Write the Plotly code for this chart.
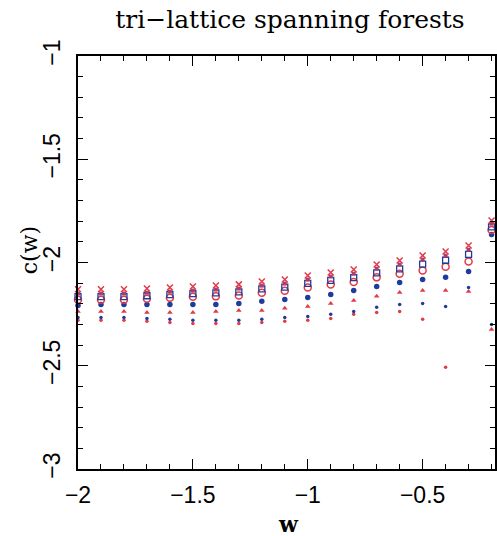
import plotly.graph_objects as go

w = [-2.0, -1.9, -1.8, -1.7, -1.6, -1.5, -1.4, -1.3, -1.2, -1.1,
     -1.0, -0.9, -0.8, -0.7, -0.6, -0.5, -0.4, -0.3, -0.2]

s_cross = [-2.130, -2.130, -2.130, -2.126, -2.121, -2.116, -2.111, -2.106, -2.092, -2.082,
           -2.063, -2.048, -2.034, -2.010, -1.990, -1.966, -1.947, -1.918, -1.797]
s_psq = [-2.150, -2.150, -2.150, -2.146, -2.141, -2.136, -2.131, -2.126, -2.112, -2.102,
         -2.083, -2.068, -2.054, -2.030, -2.010, -1.986, -1.967, -1.938, -1.812]
s_bsq = [-2.165, -2.165, -2.165, -2.161, -2.156, -2.151, -2.147, -2.142, -2.128, -2.119,
         -2.101, -2.087, -2.073, -2.050, -2.031, -2.008, -1.989, -1.961, -1.827]
s_circ = [-2.180, -2.180, -2.180, -2.176, -2.171, -2.166, -2.164, -2.160, -2.146, -2.137,
          -2.121, -2.107, -2.094, -2.072, -2.055, -2.039, -2.020, -1.995, -1.843]
s_bdot = [-2.208, -2.203, -2.203, -2.203, -2.203, -2.203, -2.203, -2.198, -2.188, -2.179,
          -2.169, -2.155, -2.135, -2.116, -2.097, -2.082, -2.072, -2.043, -1.865]
s_tri = [-2.237, -2.237, -2.237, -2.242, -2.242, -2.242, -2.237, -2.232, -2.232, -2.222,
         -2.213, -2.198, -2.184, -2.164, -2.145, -2.135, -2.135, -2.140, -2.324]
s_bsmall = [-2.266, -2.266, -2.266, -2.271, -2.275, -2.280, -2.280, -2.280, -2.275, -2.266,
            -2.261, -2.251, -2.237, -2.217, -2.203, -2.198, -2.213, -2.121, -2.300]
s_rsmall = [-2.280, -2.280, -2.280, -2.285, -2.290, -2.295, -2.295, -2.295, -2.290, -2.285,
            -2.280, -2.271, -2.251, -2.242, -2.237, -2.275, -2.507, None, None]

x_ticks = [-2, -1.5, -1, -0.5]
x_ticklabels = ["\u22122", "\u22121.5", "\u22121", "\u22120.5"]
y_ticks = [-3, -2.5, -2, -1.5, -1]
y_ticklabels = ["\u22123", "\u22122.5", "\u22122", "\u22121.5", "\u22121"]

RED = "#e23a48"
BLUE = "#1f3c9c"
PURPLE = "#a8406e"

fig = go.Figure()

def add(y, symbol, size, color, line_w=0, line_color=None):
    fig.add_trace(go.Scatter(
        x=w, y=y, mode="markers", showlegend=False, cliponaxis=False,
        marker=dict(symbol=symbol, size=size, color=color,
                    line=dict(width=line_w, color=line_color or color))))

add(s_rsmall, "circle", 3.5, RED)
add(s_bsmall, "circle", 3.5, BLUE)
add(s_tri, "triangle-up", 5, RED)
add(s_bdot, "circle", 5.5, BLUE)
add(s_circ, "circle-open", 7, RED, 1.5)
add(s_bsq, "square-open", 6, BLUE, 1.3)
add(s_psq, "square", 4, PURPLE)
add(s_cross, "x-thin", 6, RED, 1.5)

axis_common = dict(
    showline=True, linecolor="black", linewidth=1.5, mirror="allticks",
    ticks="inside", ticklen=10, tickwidth=1.3, tickcolor="black",
    showgrid=False, zeroline=False,
    tickfont=dict(family="Liberation Sans, Arial, sans-serif", size=23, color="black"),
)

fig.update_xaxes(
    range=[-2, -0.185], tickvals=x_ticks, ticktext=x_ticklabels,
    minor=dict(dtick=0.1, tick0=-2, ticks="inside", ticklen=5, tickwidth=1.2, tickcolor="black"),
    ticklabelstandoff=5,
    **axis_common)
fig.update_yaxes(
    range=[-3, -1], tickvals=y_ticks, ticktext=y_ticklabels, tickangle=-90,
    minor=dict(dtick=0.1, tick0=-3, ticks="inside", ticklen=5, tickwidth=1.2, tickcolor="black"),
    ticklabelstandoff=7,
    **axis_common)

fig.update_layout(
    width=497, height=536,
    margin=dict(l=78, r=0, t=56, b=67),
    paper_bgcolor="white", plot_bgcolor="white",
    title=dict(text="tri\u2212lattice spanning forests", xref="container", yref="container",
               x=290 / 497, y=1 - 19 / 536, xanchor="center", yanchor="middle",
               font=dict(family="DejaVu Serif, serif", size=25, color="black")),
    annotations=[
        dict(text="<b>w</b>", xref="paper", yref="paper", x=(290 - 78) / 419, y=(469 - 524) / 413,
             showarrow=False, xanchor="center", yanchor="middle",
             font=dict(family="DejaVu Serif, serif", size=22, color="black")),
        dict(text="c(w)", xref="paper", yref="paper", x=(29 - 78) / 419, y=(469 - 250) / 413,
             showarrow=False, xanchor="center", yanchor="middle", textangle=-90,
             font=dict(family="DejaVu Serif, serif", size=22, color="black")),
    ],
)

fig.write_html("out.html")
